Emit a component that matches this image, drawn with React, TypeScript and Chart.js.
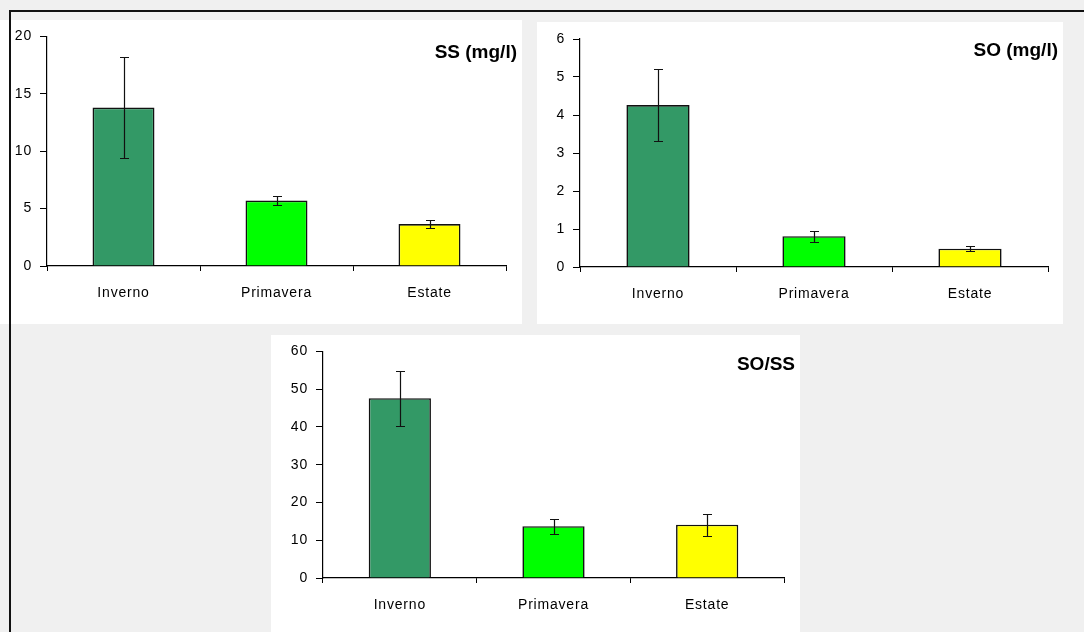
import React, { useEffect, useRef } from 'react';
import { Chart, registerables } from 'chart.js';

Chart.register(...registerables);

// ---- data ----
const categories = ['Inverno', 'Primavera', 'Estate'];
const barColors = ['#339966', '#00ff00', '#ffff00'];

const ssValues = [13.8, 5.7, 3.65];
const ssErrors = [4.4, 0.37, 0.38];

const soValues = [4.26, 0.81, 0.48];
const soErrors = [0.95, 0.15, 0.07];

const ratioValues = [47.6, 13.7, 14.1];
const ratioErrors = [7.3, 2.0, 2.85];

const ssAxis = { max: 20, step: 5 };
const soAxis = { max: 6, step: 1 };
const ratioAxis = { max: 60, step: 10 };

const ssTitle = 'SS (mg/l)';
const soTitle = 'SO (mg/l)';
const ratioTitle = 'SO/SS';

type PanelProps = {
  left: number;
  top: number;
  width: number;
  height: number;
  values: number[];
  errors: number[];
  axis: { max: number; step: number };
  title: string;
  padTop: number;
  padRight: number;
  yWidth: number;
  xHeight: number;
  titleRight: number;
  titleBaseline: number;
};

const FONT = '"Liberation Sans", Arial, sans-serif';

function Panel(p: PanelProps) {
  const ref = useRef<HTMLCanvasElement | null>(null);

  useEffect(() => {
    if (!ref.current) return;

    const spacingPlugin = {
      id: 'spacing',
      beforeDraw(chart: any) {
        (chart.ctx as any).letterSpacing = '0.8px';
      },
    };

    const errorBarPlugin = {
      id: 'errorBars',
      afterDatasetsDraw(chart: any) {
        const ctx = chart.ctx;
        const x = chart.scales.x;
        const y = chart.scales.y;
        const data = chart.data.datasets[0].data as number[];
        ctx.save();
        ctx.strokeStyle = '#111';
        ctx.lineWidth = 1.2;
        data.forEach((v, i) => {
          const px = Math.round(x.getPixelForValue(i)) + 0.5;
          const t = Math.round(y.getPixelForValue(v + p.errors[i])) + 0.5;
          const b = Math.round(y.getPixelForValue(v - p.errors[i])) + 0.5;
          ctx.beginPath();
          ctx.moveTo(px, t);
          ctx.lineTo(px, b);
          ctx.moveTo(px - 4.5, t);
          ctx.lineTo(px + 4.5, t);
          ctx.moveTo(px - 4.5, b);
          ctx.lineTo(px + 4.5, b);
          ctx.stroke();
        });
        ctx.restore();
      },
    };

    const titlePlugin = {
      id: 'cornerTitle',
      afterDraw(chart: any) {
        const ctx = chart.ctx;
        ctx.save();
        (ctx as any).letterSpacing = '0px';
        ctx.font = `bold 19px ${FONT}`;
        ctx.fillStyle = '#000';
        ctx.textAlign = 'right';
        ctx.textBaseline = 'alphabetic';
        ctx.fillText(p.title, p.titleRight, p.titleBaseline);
        ctx.restore();
      },
    };

    const chart = new Chart(ref.current, {
      type: 'bar',
      data: {
        labels: categories,
        datasets: [
          {
            data: p.values,
            backgroundColor: barColors,
            borderColor: '#111',
            borderWidth: 1.6,
            barPercentage: 0.405,
            categoryPercentage: 1,
          },
        ],
      },
      options: {
        responsive: false,
        animation: false,
        devicePixelRatio: 1,
        layout: { padding: { left: 0, top: p.padTop, right: p.padRight, bottom: 0 } },
        plugins: {
          legend: { display: false },
          tooltip: { enabled: false },
          title: { display: false },
        },
        scales: {
          x: {
            type: 'category',
            offset: true,
            grid: {
              offset: true,
              drawOnChartArea: false,
              drawTicks: true,
              tickLength: 5,
              color: '#000',
              lineWidth: 1,
            },
            border: { display: true, color: '#000', width: 1.2 },
            ticks: {
              font: { family: FONT, size: 14 },
              color: '#000',
              padding: 14,
              maxRotation: 0,
            },
            afterFit(scale: any) {
              scale.height = p.xHeight;
            },
          },
          y: {
            min: 0,
            max: p.axis.max,
            grid: {
              drawOnChartArea: false,
              drawTicks: true,
              tickLength: 7,
              color: '#000',
              lineWidth: 1,
            },
            border: { display: true, color: '#000', width: 1.2 },
            ticks: {
              stepSize: p.axis.step,
              font: { family: FONT, size: 14 },
              color: '#000',
              padding: 8,
            },
            afterFit(scale: any) {
              scale.width = p.yWidth;
            },
          },
        },
      },
      plugins: [spacingPlugin, errorBarPlugin, titlePlugin],
    } as any);

    return () => chart.destroy();
  }, []);

  return (
    <div
      style={{
        position: 'absolute',
        left: p.left,
        top: p.top,
        width: p.width,
        height: p.height,
        background: '#ffffff',
      }}
    >
      <canvas ref={ref} width={p.width} height={p.height} style={{ display: 'block' }} />
    </div>
  );
}

export default function App() {
  return (
    <div
      style={{
        position: 'absolute',
        left: 0,
        top: 0,
        width: 1084,
        height: 632,
        background: '#f0f0f0',
        overflow: 'hidden',
      }}
    >
      <Panel
        left={0}
        top={20}
        width={522}
        height={304}
        values={ssValues}
        errors={ssErrors}
        axis={ssAxis}
        title={ssTitle}
        padTop={16}
        padRight={16}
        yWidth={47}
        xHeight={58}
        titleRight={517}
        titleBaseline={37.5}
      />
      <Panel
        left={537}
        top={22}
        width={526}
        height={302}
        values={soValues}
        errors={soErrors}
        axis={soAxis}
        title={soTitle}
        padTop={17}
        padRight={15}
        yWidth={43}
        xHeight={57}
        titleRight={521}
        titleBaseline={34}
      />
      <Panel
        left={271}
        top={335}
        width={529}
        height={297}
        values={ratioValues}
        errors={ratioErrors}
        axis={ratioAxis}
        title={ratioTitle}
        padTop={16}
        padRight={16}
        yWidth={52}
        xHeight={54}
        titleRight={524}
        titleBaseline={34.5}
      />
      <div style={{ position: 'absolute', left: 9, top: 10, width: 1075, height: 2, background: '#111' }} />
      <div style={{ position: 'absolute', left: 9, top: 10, width: 2, height: 622, background: '#111' }} />
    </div>
  );
}
